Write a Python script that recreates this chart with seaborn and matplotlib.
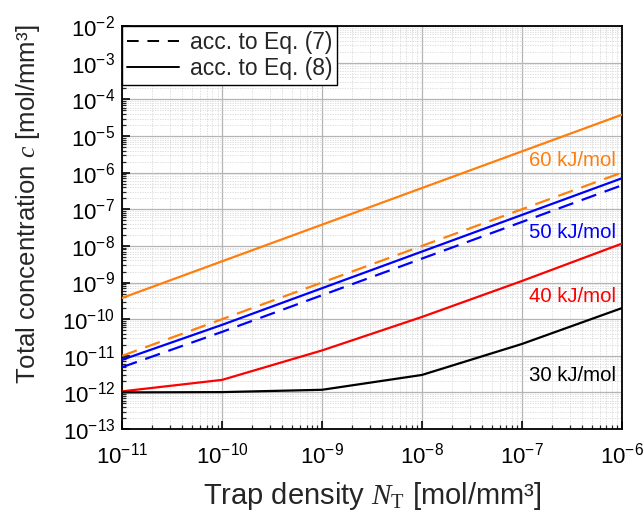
import numpy as np
import pandas as pd
import matplotlib
matplotlib.use("Agg")
import matplotlib.pyplot as plt
import seaborn as sns
from matplotlib.lines import Line2D
from matplotlib.ticker import LogLocator, NullFormatter, FixedLocator

# ---- data ----
trap_density = [1e-11, 1e-10, 1e-9, 1e-8, 1e-7, 1e-6]
c60_eq8 = [3.8e-10, 3.8e-9, 3.8e-8, 3.8e-7, 3.8e-6, 3.8e-5]
c60_eq7 = [1.0e-11, 1.0e-10, 1.0e-9, 1.0e-8, 1.0e-7, 1.0e-6]
c50_eq8 = [7.8e-12, 7.0e-11, 7.0e-10, 7.0e-9, 7.0e-8, 7.0e-7]
c50_eq7 = [4.9e-12, 4.5e-11, 4.5e-10, 4.5e-9, 4.5e-8, 4.5e-7]
c40_eq8 = [1.07e-12, 2.2e-12, 1.4e-11, 1.15e-10, 1.1e-9, 1.15e-8]
c30_eq8 = [1.0e-12, 1.02e-12, 1.18e-12, 3.0e-12, 2.1e-11, 2.0e-10]
x_ticks = [1e-11, 1e-10, 1e-9, 1e-8, 1e-7, 1e-6]
y_ticks = [1e-13, 1e-12, 1e-11, 1e-10, 1e-9, 1e-8, 1e-7, 1e-6, 1e-5, 1e-4, 1e-3, 1e-2]
energy_labels = ["60 kJ/mol", "50 kJ/mol", "40 kJ/mol", "30 kJ/mol"]
label_y = [10**-5.66, 10**-7.63, 10**-9.38, 10**-11.54]
colors = {"60 kJ/mol": "#ff7f0e", "50 kJ/mol": "#0000ff", "40 kJ/mol": "#ff0000", "30 kJ/mol": "#000000"}
legend_labels = ["acc. to Eq. (7)", "acc. to Eq. (8)"]

rows = []
for energy, eq, vals in [("60 kJ/mol", "Eq7", c60_eq7), ("60 kJ/mol", "Eq8", c60_eq8),
                         ("50 kJ/mol", "Eq7", c50_eq7), ("50 kJ/mol", "Eq8", c50_eq8),
                         ("40 kJ/mol", "Eq8", c40_eq8), ("30 kJ/mol", "Eq8", c30_eq8)]:
    for x, y in zip(trap_density, vals):
        rows.append({"N": x, "c": y, "energy": energy, "eq": eq, "grp": energy + eq})
df = pd.DataFrame(rows)

sns.set_theme(style="white")
plt.rcParams["font.family"] = ["Liberation Sans", "DejaVu Sans"]
plt.rcParams["mathtext.fontset"] = "custom"
plt.rcParams["mathtext.rm"] = "Liberation Serif"
plt.rcParams["mathtext.it"] = "Liberation Serif:italic"
plt.rcParams["mathtext.sf"] = "Liberation Sans"

fig = plt.figure(figsize=(6.43, 5.12), dpi=100)
ax = fig.add_axes([0.19, 0.162, 0.777, 0.787])

dash = (0, (7, 4))
for grp, sub in df.groupby("grp", sort=False):
    energy = sub["energy"].iloc[0]
    eq = sub["eq"].iloc[0]
    sns.lineplot(data=sub, x="N", y="c", ax=ax, color=colors[energy],
                 linestyle=dash if eq == "Eq7" else "-", linewidth=1.6,
                 legend=False, zorder=3)

ax.set_xscale("log")
ax.set_yscale("log")
ax.set_xlim(1e-11, 1e-6)
ax.set_ylim(1e-13, 1e-2)

ax.xaxis.set_major_locator(FixedLocator(x_ticks))
ax.yaxis.set_major_locator(FixedLocator(y_ticks))
ax.xaxis.set_minor_locator(LogLocator(base=10, subs=np.arange(2, 10), numticks=100))
ax.yaxis.set_minor_locator(LogLocator(base=10, subs=np.arange(2, 10), numticks=100))
ax.xaxis.set_minor_formatter(NullFormatter())
ax.yaxis.set_minor_formatter(NullFormatter())

ax.grid(True, which="major", color="#b4b4b4", linewidth=0.9, linestyle="-", zorder=0)
ax.grid(True, which="minor", color="#d8d8d8", linewidth=0.6, linestyle=(0, (1.5, 1.5)), zorder=0)
ax.set_axisbelow(True)

ax.tick_params(which="major", direction="in", length=6, width=1.2, labelsize=16,
               bottom=True, left=True, top=False, right=False, colors="black", pad=5)
ax.tick_params(axis="x", which="major", pad=10)
ax.tick_params(which="minor", direction="in", length=3, width=0.9,
               bottom=True, left=True, top=False, right=False)
for s in ax.spines.values():
    s.set_color("black")
    s.set_linewidth(1.3)

ax.set_xlabel(r"Trap density $N_{\mathrm{T}}$ [mol/mm³]", fontsize=21, labelpad=8)
ax.set_ylabel(r"Total concentration $c$ [mol/mm³]", fontsize=18.5)
ax.yaxis.set_label_coords(-0.16, 0.558)

for lab, yv in zip(energy_labels, label_y):
    ax.text(0.988, yv, lab, transform=ax.get_yaxis_transform(), ha="right", va="center",
            fontsize=14.7, color=colors[lab], zorder=4)

handles = [Line2D([], [], color="black", linestyle=(0, (6, 4.5)), linewidth=1.4),
           Line2D([], [], color="black", linestyle="-", linewidth=1.4)]
leg = ax.legend(handles, legend_labels, loc="upper left", fontsize=16.5, frameon=True,
                fancybox=False, edgecolor="black", framealpha=1, borderaxespad=0,
                handlelength=2.3, handletextpad=0.45, borderpad=0.2, labelspacing=0.15)
leg.get_frame().set_linewidth(1.0)
leg.set_zorder(5)

fig.savefig("out.png", dpi=100)
